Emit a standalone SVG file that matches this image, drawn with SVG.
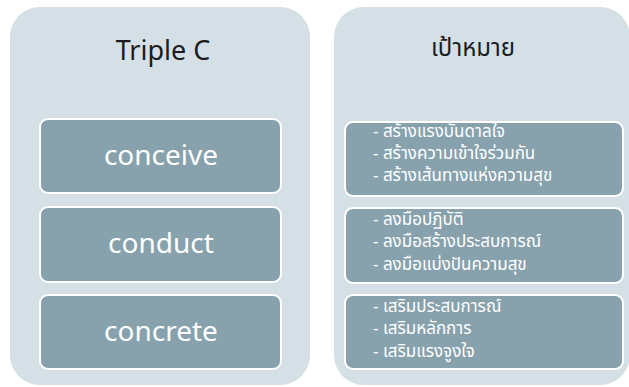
<svg xmlns="http://www.w3.org/2000/svg" width="629" height="387" viewBox="0 0 629 387">
<style>
.panel{fill:#d5e0e6}
.box{fill:#87a2ad;stroke:#ffffff;stroke-width:2}
.title{font-family:"Noto Sans","Noto Sans Thai","Open Sans",sans-serif;font-size:27px;fill:#1c1c1c;text-anchor:middle}
.ttl-th{font-size:24px}
.lbl{font-family:"Noto Sans","Open Sans",sans-serif;font-size:28px;fill:#ffffff;text-anchor:middle}
.item{font-family:"Noto Sans Thai","Noto Sans","DejaVu Sans",sans-serif;font-size:17px;fill:#ffffff}
</style>
<rect width="629" height="387" fill="#ffffff"/>
<g id="left-panel">
<rect class="panel" x="10" y="7" width="300" height="378" rx="30"/>
<text class="title" x="163" y="60">Triple C</text>
</g>
<g id="right-panel">
<rect class="panel" x="334" y="7" width="296" height="378" rx="30"/>
<text class="title ttl-th" x="473" y="56">เป้าหมาย</text>
</g>
<g id="conceive">
<rect class="box" x="40" y="119" width="241" height="74" rx="8"/>
<text class="lbl" x="161" y="165">conceive</text>
</g>
<g id="conduct">
<rect class="box" x="40" y="207" width="241" height="75" rx="8"/>
<text class="lbl" x="161" y="253">conduct</text>
</g>
<g id="concrete">
<rect class="box" x="40" y="295" width="241" height="74" rx="8"/>
<text class="lbl" x="161" y="341">concrete</text>
</g>
<g id="goal1">
<rect class="box" x="345" y="122" width="278" height="74" rx="8"/>
<text class="item" x="373" y="137">- สร้างแรงบันดาลใจ</text>
<text class="item" x="373" y="159">- สร้างความเข้าใจร่วมกัน</text>
<text class="item" x="373" y="181">- สร้างเส้นทางแห่งความสุข</text>
</g>
<g id="goal2">
<rect class="box" x="345" y="208" width="278" height="75" rx="8"/>
<text class="item" x="373" y="225">- ลงมือปฏิบัติ</text>
<text class="item" x="373" y="247">- ลงมือสร้างประสบการณ์</text>
<text class="item" x="373" y="270">- ลงมือแบ่งปันความสุข</text>
</g>
<g id="goal3">
<rect class="box" x="345" y="295" width="278" height="74" rx="8"/>
<text class="item" x="373" y="312">- เสริมประสบการณ์</text>
<text class="item" x="373" y="334">- เสริมหลักการ</text>
<text class="item" x="373" y="357">- เสริมแรงจูงใจ</text>
</g>
<g id="connectors"></g>
</svg>
